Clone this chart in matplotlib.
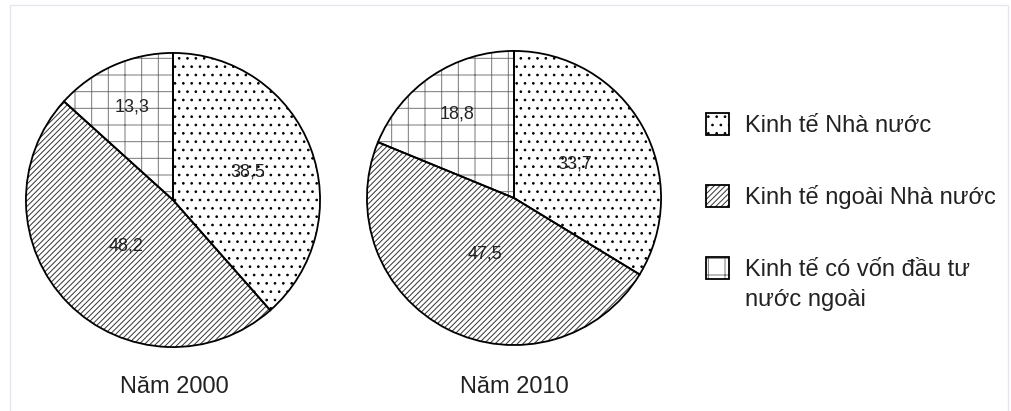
import numpy as np
import matplotlib
matplotlib.use("Agg")
import matplotlib.pyplot as plt
from matplotlib.patches import Rectangle

plt.rcParams['font.family'] = ['Liberation Sans', 'DejaVu Sans']
plt.rcParams['hatch.linewidth'] = 0.7

categories = ["Kinh tế Nhà nước", "Kinh tế ngoài Nhà nước",
              "Kinh tế có vốn đầu tư\nnước ngoài"]
years = ["Năm 2000", "Năm 2010"]
values_2000 = [38.5, 48.2, 13.3]
values_2010 = [33.7, 47.5, 18.8]
labels_2000 = ["38,5", "48,2", "13,3"]
labels_2010 = ["33,7", "47,5", "18,8"]

hatches = ['..', '//////', '+']
hatch_colors = ['black', '#333333', '#777777']
label_dist = [[0.54, 0.45, 0.69], [0.47, 0.43, 0.69]]

W, H = 1011, 411
fig = plt.figure(figsize=(W / 100, H / 100), dpi=100)
fig.patch.set_facecolor('white')

def px_axes(x0, y_top, w, h):
    return fig.add_axes([x0 / W, (H - y_top - h) / H, w / W, h / H])

pie_boxes = [(23, 50, 300, 300), (364, 48, 300, 300)]
data = [(values_2000, labels_2000), (values_2010, labels_2010)]

for i, ((vals, labs), box) in enumerate(zip(data, pie_boxes)):
    ax = px_axes(*box)
    # hatch fill pass
    wedges, _ = ax.pie(vals, startangle=90, counterclock=False, radius=1,
                       wedgeprops=dict(facecolor='white', linewidth=0))
    for w_, h_, c_ in zip(wedges, hatches, hatch_colors):
        w_.set_hatch(h_)
        w_.set_edgecolor(c_)
    # outline pass
    ax.pie(vals, startangle=90, counterclock=False, radius=1,
           wedgeprops=dict(fill=False, edgecolor='black', linewidth=1.3))
    for w_, lab, d in zip(wedges, labs, label_dist[i]):
        ang = np.deg2rad((w_.theta1 + w_.theta2) / 2)
        ax.text(d * np.cos(ang), d * np.sin(ang), lab, ha='center', va='center',
                fontsize=13, color='#222222')
    ax.set_xlim(-1.02, 1.02)
    ax.set_ylim(-1.02, 1.02)
    ax.set_aspect('equal')
    ax.axis('off')

# overlay axes in pixel coordinates
ov = fig.add_axes([0, 0, 1, 1], facecolor='none')
ov.set_xlim(0, W)
ov.set_ylim(H, 0)
ov.axis('off')
ov.add_patch(Rectangle((10, 5), 998, 410, fill=False, edgecolor='#e6e6ee', linewidth=1.0))

ov.text(174, 393, years[0], ha='center', va='baseline', fontsize=17, color='#222222')
ov.text(514, 393, years[1], ha='center', va='baseline', fontsize=17, color='#222222')

leg_y = [124, 196, 268]
for cat, h_, c_, y in zip(categories, hatches, hatch_colors, leg_y):
    ov.add_patch(Rectangle((706, y - 11), 23, 22, facecolor='white', edgecolor=c_,
                           hatch=h_, linewidth=0))
    ov.add_patch(Rectangle((706, y - 11), 23, 22, fill=False, edgecolor='black',
                           linewidth=1.3))
    first, *rest = cat.split("\n")
    ov.text(745, y + 8, first, ha='left', va='baseline', fontsize=17, color='#222222')
    for k, line in enumerate(rest, start=1):
        ov.text(745, y + 8 + 30 * k, line, ha='left', va='baseline', fontsize=17,
                color='#222222')

fig.savefig("out.png", dpi=100, facecolor='white')
